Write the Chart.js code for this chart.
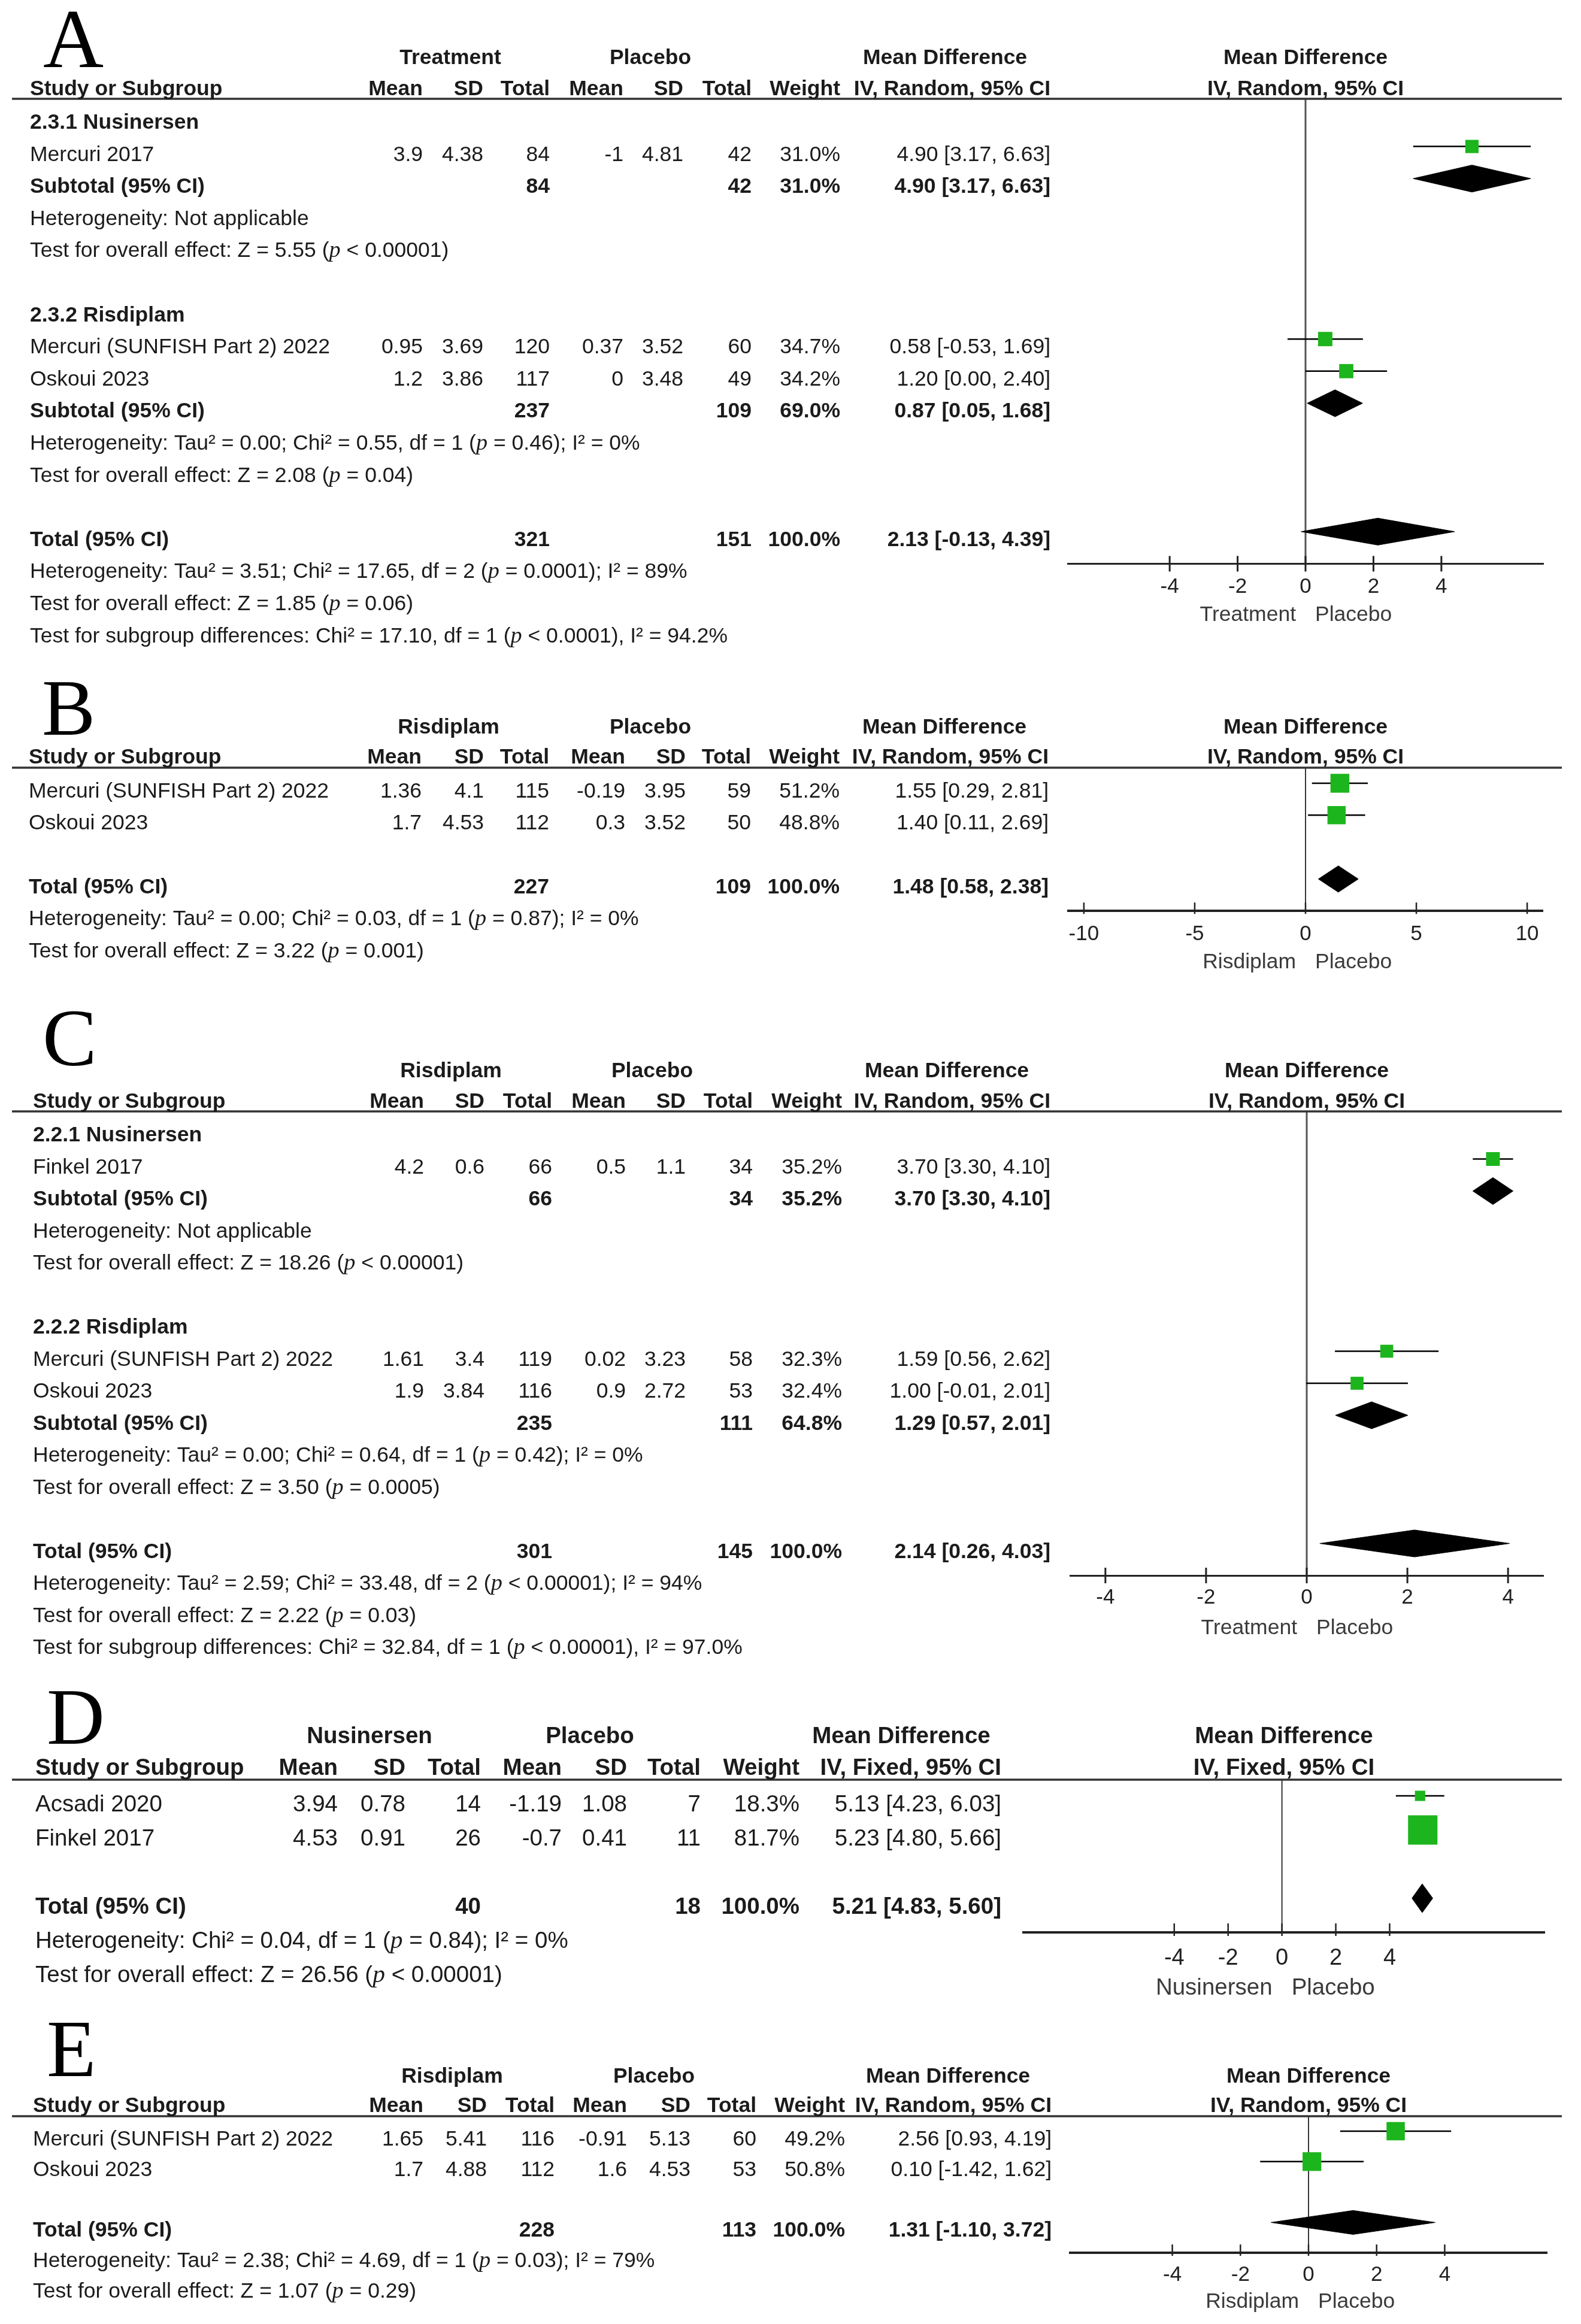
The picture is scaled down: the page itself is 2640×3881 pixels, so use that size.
<!DOCTYPE html>
<html>
<head>
<meta charset="utf-8">
<script src="https://cdn.jsdelivr.net/npm/chart.js@4.4.1/dist/chart.umd.min.js"></script>
<style>
html,body{margin:0;padding:0;background:#fff;}
#page{position:relative;width:2640px;height:3881px;overflow:hidden;background:#fff;}
#page canvas{position:absolute;left:0;}
</style>
</head>
<body>
<div id="page"></div>
<script>
// ================= DATA =================
// ---- Panel A ----
const A_groups = ["Treatment", "Placebo"];
const A_favours = ["Treatment", "Placebo"];
const A_method = "IV, Random, 95% CI";
const A_subgroups = ["2.3.1 Nusinersen", "2.3.2 Risdiplam"];
const A_studies = ["Mercuri 2017", "Mercuri (SUNFISH Part 2) 2022", "Oskoui 2023"];
const A_studySubgroup = [0, 1, 1];
const A_trtMean = [3.9, 0.95, 1.2];
const A_trtSD = [4.38, 3.69, 3.86];
const A_trtTotal = [84, 120, 117];
const A_plcMean = [-1, 0.37, 0];
const A_plcSD = [4.81, 3.52, 3.48];
const A_plcTotal = [42, 60, 49];
const A_weight = [31.0, 34.7, 34.2];
const A_md = [4.90, 0.58, 1.20];
const A_low = [3.17, -0.53, 0.00];
const A_high = [6.63, 1.69, 2.40];
const A_subTrtTotal = [84, 237];
const A_subPlcTotal = [42, 109];
const A_subWeight = [31.0, 69.0];
const A_subMd = [4.90, 0.87];
const A_subLow = [3.17, 0.05];
const A_subHigh = [6.63, 1.68];
const A_subHet = ["Heterogeneity: Not applicable", "Heterogeneity: Tau\u00B2 = 0.00; Chi\u00B2 = 0.55, df = 1 ({p} = 0.46); I\u00B2 = 0%"];
const A_subEffect = ["Test for overall effect: Z = 5.55 ({p} < 0.00001)", "Test for overall effect: Z = 2.08 ({p} = 0.04)"];
const A_totalN = [321, 151];
const A_totalEst = [2.13, -0.13, 4.39];
const A_totalNotes = ["Heterogeneity: Tau\u00B2 = 3.51; Chi\u00B2 = 17.65, df = 2 ({p} = 0.0001); I\u00B2 = 89%", "Test for overall effect: Z = 1.85 ({p} = 0.06)", "Test for subgroup differences: Chi\u00B2 = 17.10, df = 1 ({p} < 0.0001), I\u00B2 = 94.2%"];
const A_ticks = [-4, -2, 0, 2, 4];

// ---- Panel B ----
const B_groups = ["Risdiplam", "Placebo"];
const B_favours = ["Risdiplam", "Placebo"];
const B_method = "IV, Random, 95% CI";
const B_studies = ["Mercuri (SUNFISH Part 2) 2022", "Oskoui 2023"];
const B_trtMean = [1.36, 1.7];
const B_trtSD = [4.1, 4.53];
const B_trtTotal = [115, 112];
const B_plcMean = [-0.19, 0.3];
const B_plcSD = [3.95, 3.52];
const B_plcTotal = [59, 50];
const B_weight = [51.2, 48.8];
const B_md = [1.55, 1.40];
const B_low = [0.29, 0.11];
const B_high = [2.81, 2.69];
const B_totalN = [227, 109];
const B_totalEst = [1.48, 0.58, 2.38];
const B_totalNotes = ["Heterogeneity: Tau\u00B2 = 0.00; Chi\u00B2 = 0.03, df = 1 ({p} = 0.87); I\u00B2 = 0%", "Test for overall effect: Z = 3.22 ({p} = 0.001)"];
const B_ticks = [-10, -5, 0, 5, 10];

// ---- Panel C ----
const C_groups = ["Risdiplam", "Placebo"];
const C_favours = ["Treatment", "Placebo"];
const C_method = "IV, Random, 95% CI";
const C_subgroups = ["2.2.1 Nusinersen", "2.2.2 Risdiplam"];
const C_studies = ["Finkel 2017", "Mercuri (SUNFISH Part 2) 2022", "Oskoui 2023"];
const C_studySubgroup = [0, 1, 1];
const C_trtMean = [4.2, 1.61, 1.9];
const C_trtSD = [0.6, 3.4, 3.84];
const C_trtTotal = [66, 119, 116];
const C_plcMean = [0.5, 0.02, 0.9];
const C_plcSD = [1.1, 3.23, 2.72];
const C_plcTotal = [34, 58, 53];
const C_weight = [35.2, 32.3, 32.4];
const C_md = [3.70, 1.59, 1.00];
const C_low = [3.30, 0.56, -0.01];
const C_high = [4.10, 2.62, 2.01];
const C_subTrtTotal = [66, 235];
const C_subPlcTotal = [34, 111];
const C_subWeight = [35.2, 64.8];
const C_subMd = [3.70, 1.29];
const C_subLow = [3.30, 0.57];
const C_subHigh = [4.10, 2.01];
const C_subHet = ["Heterogeneity: Not applicable", "Heterogeneity: Tau\u00B2 = 0.00; Chi\u00B2 = 0.64, df = 1 ({p} = 0.42); I\u00B2 = 0%"];
const C_subEffect = ["Test for overall effect: Z = 18.26 ({p} < 0.00001)", "Test for overall effect: Z = 3.50 ({p} = 0.0005)"];
const C_totalN = [301, 145];
const C_totalEst = [2.14, 0.26, 4.03];
const C_totalNotes = ["Heterogeneity: Tau\u00B2 = 2.59; Chi\u00B2 = 33.48, df = 2 ({p} < 0.00001); I\u00B2 = 94%", "Test for overall effect: Z = 2.22 ({p} = 0.03)", "Test for subgroup differences: Chi\u00B2 = 32.84, df = 1 ({p} < 0.00001), I\u00B2 = 97.0%"];
const C_ticks = [-4, -2, 0, 2, 4];

// ---- Panel D ----
const D_groups = ["Nusinersen", "Placebo"];
const D_favours = ["Nusinersen", "Placebo"];
const D_method = "IV, Fixed, 95% CI";
const D_studies = ["Acsadi 2020", "Finkel 2017"];
const D_trtMean = [3.94, 4.53];
const D_trtSD = [0.78, 0.91];
const D_trtTotal = [14, 26];
const D_plcMean = [-1.19, -0.7];
const D_plcSD = [1.08, 0.41];
const D_plcTotal = [7, 11];
const D_weight = [18.3, 81.7];
const D_md = [5.13, 5.23];
const D_low = [4.23, 4.80];
const D_high = [6.03, 5.66];
const D_totalN = [40, 18];
const D_totalEst = [5.21, 4.83, 5.60];
const D_totalNotes = ["Heterogeneity: Chi\u00B2 = 0.04, df = 1 ({p} = 0.84); I\u00B2 = 0%", "Test for overall effect: Z = 26.56 ({p} < 0.00001)"];
const D_ticks = [-4, -2, 0, 2, 4];

// ---- Panel E ----
const E_groups = ["Risdiplam", "Placebo"];
const E_favours = ["Risdiplam", "Placebo"];
const E_method = "IV, Random, 95% CI";
const E_studies = ["Mercuri (SUNFISH Part 2) 2022", "Oskoui 2023"];
const E_trtMean = [1.65, 1.7];
const E_trtSD = [5.41, 4.88];
const E_trtTotal = [116, 112];
const E_plcMean = [-0.91, 1.6];
const E_plcSD = [5.13, 4.53];
const E_plcTotal = [60, 53];
const E_weight = [49.2, 50.8];
const E_md = [2.56, 0.10];
const E_low = [0.93, -1.42];
const E_high = [4.19, 1.62];
const E_totalN = [228, 113];
const E_totalEst = [1.31, -1.10, 3.72];
const E_totalNotes = ["Heterogeneity: Tau\u00B2 = 2.38; Chi\u00B2 = 4.69, df = 1 ({p} = 0.03); I\u00B2 = 79%", "Test for overall effect: Z = 1.07 ({p} = 0.29)"];
const E_ticks = [-4, -2, 0, 2, 4];

// ================= ASSEMBLY =================
const panels = [
  { letter: "A",
    data: { groups: A_groups, favours: A_favours, method: A_method, subgroups: A_subgroups, names: A_studies, sg: A_studySubgroup,
      m1: A_trtMean, s1: A_trtSD, n1: A_trtTotal, m2: A_plcMean, s2: A_plcSD, n2: A_plcTotal, w: A_weight, md: A_md, lo: A_low, hi: A_high,
      subN1: A_subTrtTotal, subN2: A_subPlcTotal, subW: A_subWeight, subMd: A_subMd, subLo: A_subLow, subHi: A_subHigh, subHet: A_subHet, subEff: A_subEffect,
      totalN: A_totalN, totalEst: A_totalEst, totalNotes: A_totalNotes, ticks: A_ticks },
    layout: { top: 0, bottom: 1100, H: 165, sp: 53.6, off0: 26, xmin: -7, xmax: 7, axisL: 1783, axisR: 2577,
      studyX: 50, cols: [706, 807, 918, 1041, 1141, 1255, 1403, 1754], g1c: 752, g2c: 1086, mdc: 1578,
      font: 35.5, textOff: 24, h1: 58, h2: 6, letterX: 72, letterBase: 112, letterSize: 140,
      zeroColor: "#555", zeroW: 3, axisW: 3, tickW: 3, tickUp: 13, tickDown: 13, boxScale: 2.0, diamondHalf: 22.5, ciW: 2.5,
      tickPad: 18, tickFont: 35, favOff: 84 } },
  { letter: "B",
    data: { groups: B_groups, favours: B_favours, method: B_method, names: B_studies,
      m1: B_trtMean, s1: B_trtSD, n1: B_trtTotal, m2: B_plcMean, s2: B_plcSD, n2: B_plcTotal, w: B_weight, md: B_md, lo: B_low, hi: B_high,
      totalN: B_totalN, totalEst: B_totalEst, totalNotes: B_totalNotes, ticks: B_ticks },
    layout: { top: 1100, bottom: 1665, H: 1282, sp: 53.3, off0: 26, xmin: -10.7, xmax: 10.7, axisL: 1784, axisR: 2576,
      studyX: 48, cols: [704, 808, 917, 1044, 1145, 1254, 1402, 1751], g1c: 749, g2c: 1086, mdc: 1577,
      font: 35.5, textOff: 24, h1: 57, h2: 7, letterX: 70, letterBase: 1227, letterSize: 134,
      zeroColor: "#222", zeroW: 1.8, axisW: 4, tickW: 2.5, tickUp: 14, tickDown: 5, boxScale: 2.0, diamondHalf: 22, ciW: 2.5,
      tickPad: 18, tickFont: 35, favOff: 84 } },
  { letter: "C",
    data: { groups: C_groups, favours: C_favours, method: C_method, subgroups: C_subgroups, names: C_studies, sg: C_studySubgroup,
      m1: C_trtMean, s1: C_trtSD, n1: C_trtTotal, m2: C_plcMean, s2: C_plcSD, n2: C_plcTotal, w: C_weight, md: C_md, lo: C_low, hi: C_high,
      subN1: C_subTrtTotal, subN2: C_subPlcTotal, subW: C_subWeight, subMd: C_subMd, subLo: C_subLow, subHi: C_subHigh, subHet: C_subHet, subEff: C_subEffect,
      totalN: C_totalN, totalEst: C_totalEst, totalNotes: C_totalNotes, ticks: C_ticks },
    layout: { top: 1665, bottom: 2780, H: 1856, sp: 53.5, off0: 26, xmin: -4.7, xmax: 4.7, axisL: 1787, axisR: 2577,
      studyX: 55, cols: [708, 809, 922, 1045, 1145, 1257, 1406, 1754], g1c: 753, g2c: 1089, mdc: 1581,
      font: 35.5, textOff: 24, h1: 57, h2: 6, letterX: 71, letterBase: 1779, letterSize: 136,
      zeroColor: "#555", zeroW: 3, axisW: 3, tickW: 3, tickUp: 13, tickDown: 13, boxScale: 1.9, diamondHalf: 22.5, ciW: 2.5,
      tickPad: 16, tickFont: 35, favOff: 86 } },
  { letter: "D",
    data: { groups: D_groups, favours: D_favours, method: D_method, names: D_studies,
      m1: D_trtMean, s1: D_trtSD, n1: D_trtTotal, m2: D_plcMean, s2: D_plcSD, n2: D_plcTotal, w: D_weight, md: D_md, lo: D_low, hi: D_high,
      totalN: D_totalN, totalEst: D_totalEst, totalNotes: D_totalNotes, ticks: D_ticks },
    layout: { top: 2780, bottom: 3345, H: 2972, sp: 57, off0: 27, xmin: -9.6, xmax: 9.75, axisL: 1709, axisR: 2579,
      studyX: 59, cols: [564, 677, 803, 938, 1047, 1170, 1335, 1672], g1c: 617, g2c: 985, mdc: 1505,
      font: 38.5, textOff: 26, h1: 61, h2: 8, letterX: 78, letterBase: 2912, letterSize: 134,
      zeroColor: "#222", zeroW: 1.8, axisW: 4, tickW: 2.5, tickUp: 15, tickDown: 6, boxScale: 2.25, diamondHalf: 24, ciW: 2.5,
      tickPad: 21, tickFont: 38, favOff: 92 } },
  { letter: "E",
    data: { groups: E_groups, favours: E_favours, method: E_method, names: E_studies,
      m1: E_trtMean, s1: E_trtSD, n1: E_trtTotal, m2: E_plcMean, s2: E_plcSD, n2: E_plcTotal, w: E_weight, md: E_md, lo: E_low, hi: E_high,
      totalN: E_totalN, totalEst: E_totalEst, totalNotes: E_totalNotes, ticks: E_ticks },
    layout: { top: 3345, bottom: 3881, H: 3534, sp: 50.8, off0: 25, xmin: -7, xmax: 7, axisL: 1787, axisR: 2583,
      studyX: 55, cols: [707, 813, 926, 1047, 1153, 1263, 1411, 1756], g1c: 755, g2c: 1092, mdc: 1583,
      font: 35.5, textOff: 24, h1: 56, h2: 7, letterX: 78, letterBase: 3467, letterSize: 135,
      zeroColor: "#222", zeroW: 1.8, axisW: 4, tickW: 2.5, tickUp: 14, tickDown: 5, boxScale: 2.0, diamondHalf: 20, ciW: 2.5,
      tickPad: 16, tickFont: 35, favOff: 80 } }
];

// ================= RENDERING =================
const SANS = '"Liberation Sans", Arial, Helvetica, sans-serif';
const SERIF = '"Liberation Serif", "Times New Roman", serif';
const TEXT = "#1b1b1b";
const GREEN = "#1db51d";

const fmtNum = v => String(v);
const fmtPct = v => v.toFixed(1) + "%";
const fmtCI = (m, l, h) => m.toFixed(2) + " [" + l.toFixed(2) + ", " + h.toFixed(2) + "]";

function buildRows(d) {
  const rows = [];
  let r = 0;
  const studyRow = i => rows.push({ r: r++, kind: "study",
    cells: [d.names[i], fmtNum(d.m1[i]), fmtNum(d.s1[i]), fmtNum(d.n1[i]), fmtNum(d.m2[i]), fmtNum(d.s2[i]), fmtNum(d.n2[i]), fmtPct(d.w[i]), fmtCI(d.md[i], d.lo[i], d.hi[i])],
    est: [d.md[i], d.lo[i], d.hi[i]], w: d.w[i] });
  if (d.subgroups) {
    d.subgroups.forEach((name, g) => {
      rows.push({ r: r++, kind: "label", text: name });
      d.names.forEach((_, i) => { if (d.sg[i] === g) studyRow(i); });
      rows.push({ r: r++, kind: "pooled",
        cells: ["Subtotal (95% CI)", "", "", fmtNum(d.subN1[g]), "", "", fmtNum(d.subN2[g]), fmtPct(d.subW[g]), fmtCI(d.subMd[g], d.subLo[g], d.subHi[g])],
        est: [d.subMd[g], d.subLo[g], d.subHi[g]] });
      rows.push({ r: r++, kind: "note", text: d.subHet[g] });
      rows.push({ r: r++, kind: "note", text: d.subEff[g] });
      r++;
    });
  } else {
    d.names.forEach((_, i) => studyRow(i));
    r++;
  }
  const totalRow = r;
  rows.push({ r: r++, kind: "pooled",
    cells: ["Total (95% CI)", "", "", fmtNum(d.totalN[0]), "", "", fmtNum(d.totalN[1]), fmtPct(100), fmtCI(d.totalEst[0], d.totalEst[1], d.totalEst[2])],
    est: d.totalEst });
  d.totalNotes.forEach(t => rows.push({ r: r++, kind: "note", text: t }));
  return { rows, totalRow };
}

function drawRich(ctx, text, x, y, align, size, bold, color) {
  const fontN = (bold ? "bold " : "") + size + "px " + SANS;
  const fontP = "italic " + (size * 1.08).toFixed(1) + "px " + SERIF;
  const parts = String(text).split("{p}");
  const segs = [];
  parts.forEach((p, i) => { if (i > 0) segs.push({ t: "p", f: fontP }); if (p) segs.push({ t: p, f: fontN }); });
  let total = 0;
  segs.forEach(s => { ctx.font = s.f; s.w = ctx.measureText(s.t).width; total += s.w; });
  let cx = align === "right" ? x - total : (align === "center" ? x - total / 2 : x);
  ctx.textAlign = "left";
  ctx.textBaseline = "alphabetic";
  ctx.fillStyle = color || TEXT;
  segs.forEach(s => { ctx.font = s.f; ctx.fillText(s.t, cx, y); cx += s.w; });
}

function makePanel(p) {
  const L = p.layout, d = p.data;
  const { rows, totalRow } = buildRows(d);
  const axisRow = totalRow + 1;
  const yMin = -L.off0 / L.sp, yMax = axisRow;
  const h = L.bottom - L.top;
  const Hl = L.H - L.top;
  const axisY = Hl + L.off0 + axisRow * L.sp;

  const cv = document.createElement("canvas");
  cv.width = 2640; cv.height = h;
  cv.style.top = L.top + "px"; cv.style.width = "2640px"; cv.style.height = h + "px";
  document.getElementById("page").appendChild(cv);

  const datasets = [];
  datasets.push({ data: [{ x: 0, y: yMin }, { x: 0, y: yMax }], showLine: true, borderColor: L.zeroColor, borderWidth: L.zeroW, pointRadius: 0, order: 9, clip: false });
  const studies = rows.filter(r => r.kind === "study");
  studies.forEach(row => {
    datasets.push({ data: [{ x: row.est[1], y: row.r }, { x: row.est[2], y: row.r }], showLine: true, borderColor: "#000", borderWidth: L.ciW, pointRadius: 0, order: 5, clip: false });
  });
  datasets.push({ data: studies.map(row => ({ x: row.est[0], y: row.r })), showLine: false, pointStyle: "rect",
    pointRadius: studies.map(row => L.boxScale * Math.pow(row.w, 0.7) / Math.SQRT2),
    backgroundColor: GREEN, borderColor: GREEN, borderWidth: 0, order: 2, clip: false });
  const hh = L.diamondHalf / L.sp;
  rows.filter(r => r.kind === "pooled").forEach(row => {
    const [m, lo, hi] = row.est;
    datasets.push({ data: [{ x: lo, y: row.r }, { x: m, y: row.r - hh }, { x: hi, y: row.r }, { x: m, y: row.r + hh }, { x: lo, y: row.r }],
      showLine: true, fill: "shape", backgroundColor: "#000", borderColor: "#000", borderWidth: 1, pointRadius: 0, order: 1, clip: false });
  });

  const textPlugin = {
    id: "forestText" + p.letter,
    afterDraw(chart) {
      const ctx = chart.ctx, xs = chart.scales.x, ys = chart.scales.y, ca = chart.chartArea;
      const Hy = ca.top, fs = L.font;
      ctx.save();
      // panel letter
      ctx.fillStyle = "#000"; ctx.font = L.letterSize + "px " + SERIF; ctx.textAlign = "left"; ctx.textBaseline = "alphabetic";
      ctx.fillText(p.letter, L.letterX, L.letterBase - L.top);
      // header rule
      ctx.strokeStyle = "#333"; ctx.lineWidth = 3.5; ctx.beginPath(); ctx.moveTo(20, Hy); ctx.lineTo(2608, Hy); ctx.stroke();
      // headers
      const y1 = Hy - L.h1, y2 = Hy - L.h2;
      const plotC = (ca.left + ca.right) / 2;
      drawRich(ctx, d.groups[0], L.g1c, y1, "center", fs, true);
      drawRich(ctx, d.groups[1], L.g2c, y1, "center", fs, true);
      drawRich(ctx, "Mean Difference", L.mdc, y1, "center", fs, true);
      drawRich(ctx, "Mean Difference", plotC, y1, "center", fs, true);
      drawRich(ctx, "Study or Subgroup", L.studyX, y2, "left", fs, true);
      ["Mean", "SD", "Total", "Mean", "SD", "Total", "Weight", d.method].forEach((t, i) => drawRich(ctx, t, L.cols[i], y2, "right", fs, true));
      drawRich(ctx, d.method, plotC, y2, "center", fs, true);
      // rows
      rows.forEach(row => {
        const y = ys.getPixelForValue(row.r) + L.textOff;
        if (row.kind === "label") drawRich(ctx, row.text, L.studyX, y, "left", fs, true);
        else if (row.kind === "note") drawRich(ctx, row.text, L.studyX, y, "left", fs, false);
        else {
          const bold = row.kind === "pooled";
          drawRich(ctx, row.cells[0], L.studyX, y, "left", fs, bold);
          for (let i = 1; i < row.cells.length; i++) if (row.cells[i] !== "") drawRich(ctx, row.cells[i], L.cols[i - 1], y, "right", fs, bold);
        }
      });
      // tick marks
      const ay = ca.bottom;
      ctx.strokeStyle = "#222"; ctx.lineWidth = L.tickW;
      d.ticks.forEach(v => { const x = xs.getPixelForValue(v); ctx.beginPath(); ctx.moveTo(x, ay - L.tickUp); ctx.lineTo(x, ay + L.tickDown); ctx.stroke(); });
      // favours labels
      const zx = xs.getPixelForValue(0);
      drawRich(ctx, d.favours[0], zx - 16, ay + L.favOff + 12, "right", fs, false, "#3a3a3a");
      drawRich(ctx, d.favours[1], zx + 16, ay + L.favOff + 12, "left", fs, false, "#3a3a3a");
      ctx.restore();
    }
  };

  new Chart(cv.getContext("2d"), {
    type: "scatter",
    data: { datasets },
    options: {
      responsive: false, animation: false, devicePixelRatio: 1, events: [],
      layout: { padding: { left: L.axisL, right: 2640 - L.axisR, top: Hl, bottom: 0 } },
      plugins: { legend: { display: false }, tooltip: { enabled: false }, title: { display: false } },
      scales: {
        x: {
          type: "linear", position: "bottom", min: L.xmin, max: L.xmax,
          afterBuildTicks: ax => { ax.ticks = d.ticks.map(v => ({ value: v })); },
          afterFit: ax => { ax.height = h - axisY; },
          grid: { display: false, drawTicks: false },
          border: { display: true, color: "#222", width: L.axisW },
          ticks: { padding: L.tickPad, color: "#222", autoSkip: false, maxRotation: 0, font: { family: SANS, size: L.tickFont }, callback: v => String(v) }
        },
        y: { type: "linear", display: false, reverse: true, min: yMin, max: yMax }
      }
    },
    plugins: [textPlugin]
  });
}

panels.forEach(makePanel);
</script>
</body>
</html>
